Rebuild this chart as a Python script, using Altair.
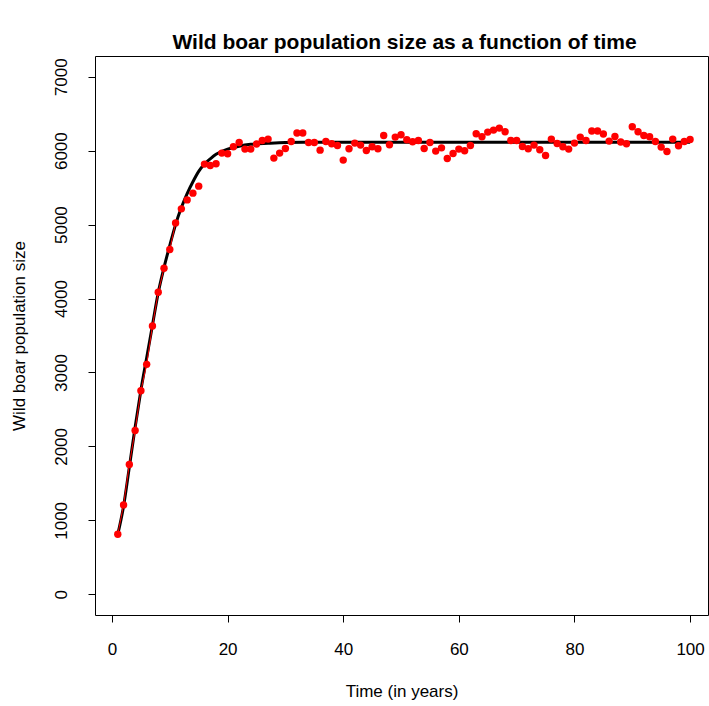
import altair as alt
import pandas as pd

# Observed wild boar population (t = 1..100)
years = list(range(1, 101))
population = [
    812, 1209, 1756, 2216, 2753, 3110, 3628, 4085, 4410, 4662,
    5023, 5213, 5334, 5425, 5520, 5818, 5799, 5822, 5967, 5957,
    6052, 6110, 6021, 6021, 6089, 6137, 6156, 5899, 5967, 6029,
    6124, 6238, 6238, 6110, 6110, 6007, 6124, 6093, 6070, 5872,
    6025, 6102, 6075, 6002, 6052, 6025, 6205, 6079, 6183, 6214,
    6147, 6120, 6137, 6029, 6110, 5994, 6038, 5894, 5961, 6021,
    5998, 6070, 6228, 6187, 6251, 6278, 6305, 6255, 6137, 6137,
    6056, 6025, 6075, 6011, 5934, 6156, 6097, 6052, 6021, 6102,
    6183, 6137, 6265, 6265, 6224, 6129, 6192, 6116, 6093, 6323,
    6255, 6205, 6187, 6124, 6048, 5988, 6156, 6066, 6124, 6151,
]

# Fitted (model) curve
curve_t = [1, 2, 3, 4, 5, 6, 7, 8, 9, 10, 11, 12, 13, 14, 15, 16, 17, 18,
           19, 20, 22, 24, 27, 30, 35, 50, 100]
curve_n = [810, 1190, 1720, 2260, 2760, 3200, 3640, 4080, 4420, 4720, 5000,
           5230, 5420, 5580, 5720, 5820, 5890, 5950, 5990, 6020, 6060, 6085,
           6100, 6110, 6113, 6115, 6115]

obs = pd.DataFrame({"t": years, "n": population})
fit = pd.DataFrame({"t": curve_t, "n": curve_n})

# connecting segments (type="b" style: only long ones remain visible)
seg = pd.DataFrame({
    "t": years[:-1], "n": population[:-1],
    "t2": years[1:], "n2": population[1:],
})
seg = seg[(seg["n2"] - seg["n"]).abs() > 300]

FONT = "Liberation Sans"
FS = 17

x_scale = alt.Scale(domain=[-2.94, 103.1], nice=False, zero=False)
y_scale = alt.Scale(domain=[-280, 7280], nice=False, zero=False)

x_axis = alt.Axis(
    title="Time (in years)", values=[0, 20, 40, 60, 80, 100], grid=False,
    domain=False, tickSize=7, tickColor="black", tickWidth=1,
    labelFont=FONT, labelFontSize=FS, labelColor="black",
    labelBaseline="alphabetic", labelPadding=32, labelFlush=False,
    titleFont=FONT, titleFontSize=FS, titleFontWeight="normal", titleColor="black",
    titleBaseline="alphabetic", titleY=81,
)
y_axis = alt.Axis(
    title="Wild boar population size", values=[0, 1000, 2000, 3000, 4000, 5000, 6000, 7000],
    format="d",
    grid=False, domain=False, tickSize=7, tickColor="black", tickWidth=1,
    labelFont=FONT, labelFontSize=FS, labelColor="black", labelAngle=-90,
    labelAlign="center", labelBaseline="alphabetic", labelPadding=22, labelFlush=False,
    titleFont=FONT, titleFontSize=FS, titleFontWeight="normal", titleColor="black",
    titleBaseline="alphabetic", titleX=-71, titleAngle=-90,
)

curve = alt.Chart(fit).mark_line(color="black", strokeWidth=3, interpolate="monotone").encode(
    x=alt.X("t:Q", scale=x_scale, axis=x_axis),
    y=alt.Y("n:Q", scale=y_scale, axis=y_axis),
)
thin = alt.Chart(seg).mark_rule(color="red", strokeWidth=1).encode(
    x=alt.X("t:Q", scale=x_scale),
    y=alt.Y("n:Q", scale=y_scale),
    x2="t2:Q",
    y2="n2:Q",
)
pts = alt.Chart(obs).mark_circle(color="red", size=55, opacity=1).encode(
    x=alt.X("t:Q", scale=x_scale),
    y=alt.Y("n:Q", scale=y_scale),
)

chart = alt.layer(curve, thin, pts).properties(
    width=613, height=559,
    background="white",
    title=alt.TitleParams(
        "Wild boar population size as a function of time",
        font=FONT, fontSize=21, fontWeight="bold", color="black",
        anchor="middle", frame="group", baseline="alphabetic", offset=3.5, dy=17, dx=3,
    ),
    autosize=alt.AutoSizeParams(type="none"),
    padding={"left": 95, "top": 56, "right": 1, "bottom": 91},
).configure_view(stroke="black", strokeWidth=1)

chart.save("out.html", embed_options={"renderer": "svg", "actions": False})
